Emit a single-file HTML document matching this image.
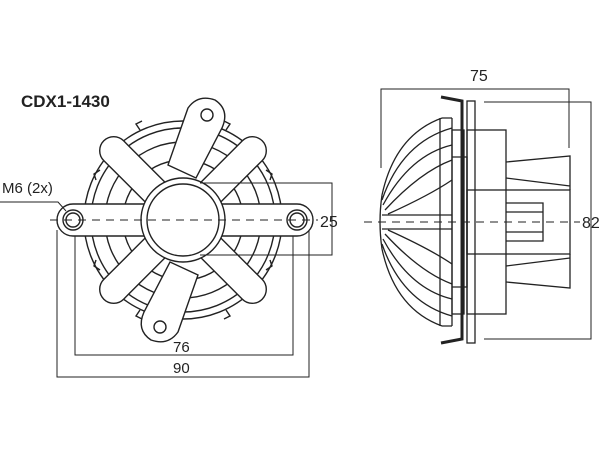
<!DOCTYPE html>
<html><head><meta charset="utf-8"><style>
html,body{margin:0;padding:0;background:#fff;width:600px;height:450px;overflow:hidden}
svg{display:block}
text{font-family:"Liberation Sans",sans-serif;fill:#222}
</style></head><body>
<svg width="600" height="450" viewBox="0 0 600 450" xmlns="http://www.w3.org/2000/svg">
<g fill="none" stroke="#222" stroke-width="1.4">
<circle cx="183" cy="220" r="99"/>
<circle cx="183" cy="220" r="92"/>
<circle cx="183" cy="220" r="78"/>
<circle cx="183" cy="220" r="60"/>
<path d="M100 170 l-6 4 l2 6 M266 170 l6 4 l-2 6 M100 270 l-6 -4 l2 -6 M266 270 l6 -4 l-2 -6 M140 130 l-4 -6 l6 -3 M226 310 l4 6 l-6 3 M226 130 l4-6 l-6-3 M140 310 l-4 6 l6 3"/>
<path d="M73 204 H297 A16 16 0 0 1 297 236 H73 A16 16 0 0 1 73 204 Z" fill="#fff"/>
<circle cx="73" cy="220" r="10"/><circle cx="73" cy="220" r="7"/>
<circle cx="297" cy="220" r="10"/><circle cx="297" cy="220" r="7"/>
<g fill="#fff">
<path d="M188 108 Q198 94 215 100 Q230 110 222 128 L196 178 L168 165 Z"/>
<path d="M178 332 Q168 346 151 340 Q136 330 144 312 L170 262 L198 275 Z"/>
<rect x="-112" y="-14" width="224" height="28" rx="14" transform="translate(183 220) rotate(45)"/>
<rect x="-112" y="-14" width="224" height="28" rx="14" transform="translate(183 220) rotate(-45)"/>
</g>
<circle cx="207" cy="115" r="6"/>
<circle cx="160" cy="327" r="6"/>
<circle cx="183" cy="220" r="42" fill="#fff"/>
<circle cx="183" cy="220" r="36"/>
</g>
<g stroke="#222" stroke-width="1" fill="none">
<line x1="50" y1="220" x2="318" y2="220" stroke-dasharray="8,6"/>
<path d="M0 202 H58 L66 211"/>
<path d="M200 183 H332 V255 H200"/>
<path d="M75 236 V355 H293 V236"/>
<path d="M57 230 V377 H309 V230"/>
</g>
<text x="21" y="107" font-size="17" font-weight="bold">CDX1-1430</text>
<text x="2" y="193" font-size="15">M6 (2x)</text>
<text x="320" y="227" font-size="16">25</text>
<text x="173" y="352" font-size="15">76</text>
<text x="173" y="373" font-size="15">90</text>

<g fill="none" stroke="#222" stroke-width="1.3">
<path d="M382 195 Q395 135 442 118 M382 200 Q402 142 452 128 M383 205 Q410 155 452 145 M385 210 Q420 172 452 160 M388 214 Q430 195 452 180"/>
<path d="M382 249 Q395 309 442 326 M382 244 Q402 302 452 316 M383 239 Q410 289 452 299 M385 234 Q420 272 452 284 M388 230 Q430 249 452 264"/>
<path d="M382 195 Q378 222 382 249"/>
<path d="M382 215 H452 M382 229 H452"/>
<path d="M440 118 V326 M452 118 V326"/>
<path d="M442 118 L452 118 M442 326 L452 326"/>
<rect x="452" y="130" width="12" height="184"/>
<path d="M452 157 H467 V287 H452"/>
<rect x="467" y="101" width="8" height="242"/>
<rect x="467" y="130" width="39" height="184"/>
<rect x="467" y="190" width="103" height="64"/>
<path d="M506 162 L570 156 V190 M506 178 L570 186"/>
<path d="M506 282 L570 288 V254 M506 266 L570 258"/>
<path d="M506 203 H543 V241 H506 M506 212 H543 M506 232 H543"/>
</g>
<path d="M441 97 L462 101 V339 L441 343" fill="none" stroke="#222" stroke-width="3"/>
<g stroke="#222" stroke-width="1" fill="none">
<line x1="364" y1="222" x2="580" y2="222" stroke-dasharray="8,6"/>
<path d="M381 168 V89 H569 V148"/>
<path d="M484 102 H591 V339 H484"/>
</g>
<text x="470" y="81" font-size="16">75</text>
<text x="582" y="228" font-size="16">82</text>
</svg>
</body></html>
